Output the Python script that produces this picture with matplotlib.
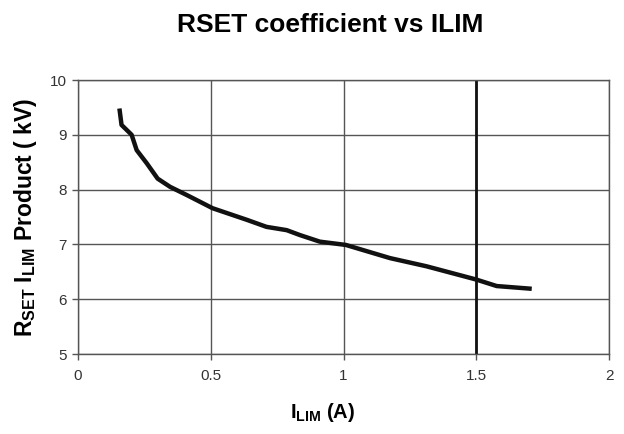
import matplotlib
matplotlib.use("Agg")
import matplotlib.pyplot as plt

plt.rcParams['font.family'] = ['Liberation Sans', 'DejaVu Sans']
plt.rcParams['mathtext.fontset'] = 'custom'
plt.rcParams['mathtext.rm'] = 'Liberation Sans'
plt.rcParams['mathtext.bf'] = 'Liberation Sans:bold'
plt.rcParams['mathtext.it'] = 'Liberation Sans:italic'

ilim = [0.156, 0.164, 0.202, 0.221, 0.259, 0.30, 0.347, 0.41, 0.507, 0.635,
        0.71, 0.786, 0.836, 0.911, 1.009, 1.175, 1.313, 1.499, 1.577, 1.709]
product = [9.48, 9.18, 9.0, 8.72, 8.48, 8.2, 8.05, 7.9, 7.66, 7.45,
           7.32, 7.26, 7.17, 7.05, 6.99, 6.75, 6.6, 6.36, 6.24, 6.19]
xticks = [0, 0.5, 1, 1.5, 2]
xticklabels = ['0', '0.5', '1', '1.5', '2']
yticks = [5, 6, 7, 8, 9, 10]

fig = plt.figure(figsize=(6.24, 4.34), dpi=100)
ax = fig.add_axes([78/624, 1-354/434, (609-78)/624, (354-80)/434])

grid_c = '#555555'
for y in yticks:
    ax.axhline(y, color=grid_c, lw=1.0, zorder=1)
for x in xticks:
    ax.axvline(x, color=grid_c, lw=1.0, zorder=1)
ax.axvline(1.5, color='#111111', lw=2.0, zorder=1)

ax.plot(ilim, product, color='#111111', lw=3.2, solid_capstyle='butt', zorder=3)

ax.set_xlim(0, 2)
ax.set_ylim(5, 10)
ax.set_xticks(xticks)
ax.set_xticklabels(xticklabels)
ax.set_yticks(yticks)
for s in ax.spines.values():
    s.set_color(grid_c)
    s.set_linewidth(1.0)
ax.tick_params(axis='both', colors=grid_c, labelcolor='#333333', labelsize=11, length=4, width=1.0, direction='out')
ax.tick_params(axis='x', pad=7)
ax.tick_params(axis='y', pad=4)

ax.set_xlabel(r'$\mathbf{I_{LIM}}$' + ' (A)', fontsize=14.5, fontweight='bold', labelpad=10)
ax.xaxis.set_label_coords((323-78)/(609-78), -0.17)
ax.set_ylabel(r'$\mathbf{R_{SET}\ I_{LIM}}$' + ' Product ( kV)', fontsize=16.5, fontweight='bold', labelpad=8)

fig.text(330/624, 1-25/434, 'RSET coefficient vs ILIM', ha='center', va='center', fontsize=19, fontweight='bold')

fig.savefig('out.png', dpi=100)
